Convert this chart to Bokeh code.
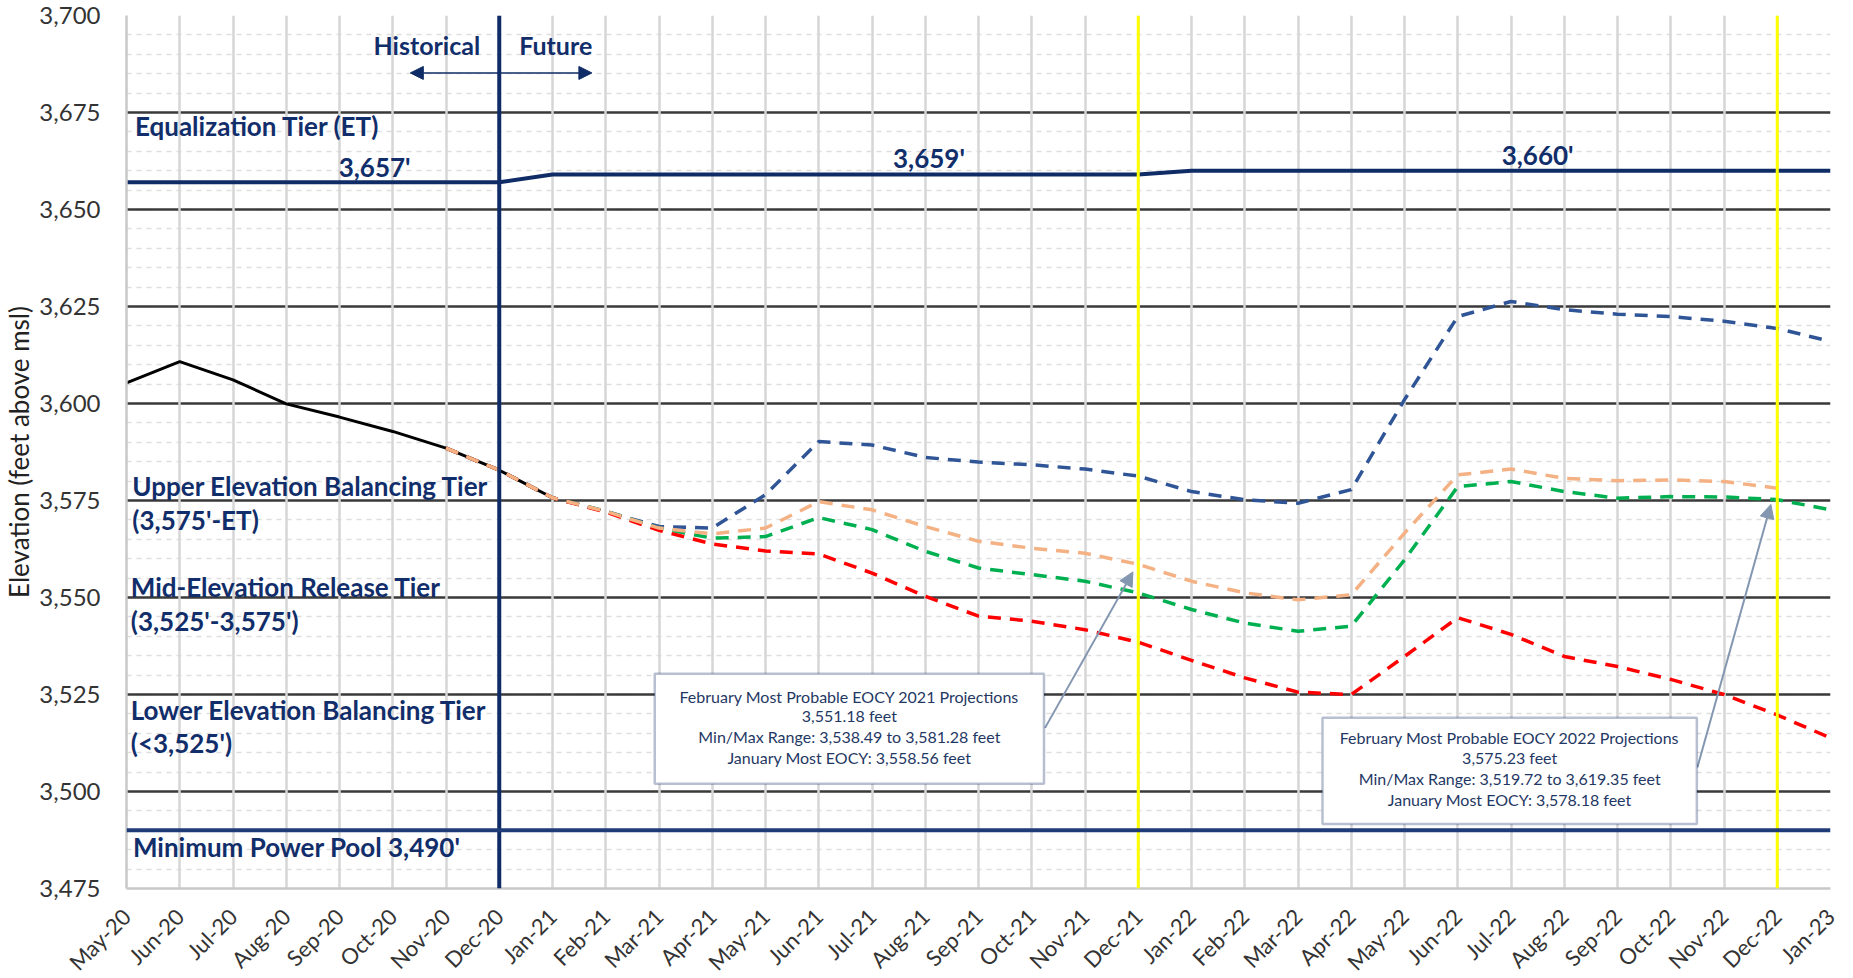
import math
from bokeh.plotting import figure
from bokeh.models import (Range1d, FixedTicker, NumeralTickFormatter, Grid, Span, Label,
                          BoxAnnotation, Arrow, NormalHead)
from bokeh.embed import file_html
from bokeh.resources import INLINE

# ---------------- data ----------------
month_labels = ["May-20", "Jun-20", "Jul-20", "Aug-20", "Sep-20", "Oct-20", "Nov-20", "Dec-20",
                "Jan-21", "Feb-21", "Mar-21", "Apr-21", "May-21", "Jun-21", "Jul-21", "Aug-21",
                "Sep-21", "Oct-21", "Nov-21", "Dec-21", "Jan-22", "Feb-22", "Mar-22", "Apr-22",
                "May-22", "Jun-22", "Jul-22", "Aug-22", "Sep-22", "Oct-22", "Nov-22", "Dec-22",
                "Jan-23"]
y_ticks = [3475, 3500, 3525, 3550, 3575, 3600, 3625, 3650, 3675, 3700]

historical = [3605.3, 3610.8, 3606.1, 3599.9, 3596.5, 3592.8, 3588.5, 3582.8, 3575.7]

# projections start at Nov-20
proj_start = 6
max_probable = [3588.5, 3582.8, 3575.7, 3572.2, 3568.3, 3567.9, 3576.5, 3590.2, 3589.3, 3586.1,
                3584.9, 3584.2, 3583.1, 3581.28, 3577.3, 3575.2, 3574.3, 3577.8, 3601.0, 3622.4,
                3626.3, 3624.2, 3623.0, 3622.4, 3621.2, 3619.35, 3616.0]
jan_most_probable = [3588.5, 3582.8, 3575.7, 3572.2, 3567.9, 3566.4, 3567.9, 3574.7, 3572.6, 3568.3,
                     3564.5, 3562.7, 3561.4, 3558.56, 3554.2, 3551.2, 3549.4, 3550.7, 3566.6, 3581.6,
                     3583.1, 3580.7, 3580.1, 3580.3, 3579.9, 3578.18]
feb_most_probable = [3588.5, 3582.8, 3575.7, 3572.2, 3567.9, 3565.3, 3565.7, 3570.6, 3567.5, 3561.9,
                     3557.6, 3555.9, 3554.2, 3551.18, 3546.9, 3543.4, 3541.3, 3542.6, 3559.7, 3578.6,
                     3579.9, 3577.3, 3575.6, 3576.0, 3575.9, 3575.23, 3572.6]
min_probable = [3588.5, 3582.8, 3575.7, 3572.0, 3567.3, 3563.8, 3562.0, 3561.2, 3556.3, 3550.3,
                3545.2, 3543.9, 3541.7, 3538.49, 3533.8, 3529.3, 3525.6, 3525.0, 3534.8, 3544.8,
                3540.5, 3534.8, 3532.2, 3528.9, 3525.0, 3519.72, 3513.8]

equalization = [3657, 3657, 3657, 3657, 3657, 3657, 3657, 3657,
                3659, 3659, 3659, 3659, 3659, 3659, 3659, 3659, 3659, 3659, 3659, 3659,
                3660, 3660, 3660, 3660, 3660, 3660, 3660, 3660, 3660, 3660, 3660, 3660, 3660]
min_power_pool = 3490
hist_future_divider = 7      # Dec-20
eocy_markers = [19, 31]      # Dec-21, Dec-22

box1_lines = ["February Most Probable EOCY 2021 Projections", "3,551.18 feet",
              "Min/Max Range: 3,538.49 to 3,581.28 feet", "January Most EOCY: 3,558.56 feet"]
box2_lines = ["February Most Probable EOCY 2022 Projections", "3,575.23 feet",
              "Min/Max Range: 3,519.72 to 3,619.35 feet", "January Most EOCY: 3,578.18 feet"]

# ---------------- styling ----------------
NAVY = "#0F2C66"
NAVY_TXT = "#112E6B"
FONT = "Lato"
Y0, Y1 = 3475, 3700

months = list(range(len(month_labels)))

p = figure(frame_width=1704, frame_height=873,
           x_range=Range1d(0, len(month_labels) - 1), y_range=Range1d(Y0, Y1),
           output_backend="svg", toolbar_location=None,
           min_border_left=123, min_border_top=15, min_border_right=10, min_border_bottom=0,
           background_fill_color="white", border_fill_color="white")
p.outline_line_color = None
p.grid.visible = False

yt = FixedTicker(ticks=y_ticks, minor_ticks=list(range(Y0, Y1 + 1, 5)))
xt = FixedTicker(ticks=months)

ygrid = Grid(dimension=1, ticker=yt, grid_line_color="#3A3A3A", grid_line_width=2.5,
             minor_grid_line_color="#DEDEDE", minor_grid_line_width=1.5,
             minor_grid_line_dash="5 5")
xgrid = Grid(dimension=0, ticker=xt, grid_line_color="#D6D6D6", grid_line_width=2.5)
p.add_layout(ygrid)
p.add_layout(xgrid)

p.yaxis.ticker = yt
p.yaxis.formatter = NumeralTickFormatter(format="0,0")
p.xaxis.ticker = xt
p.xaxis.major_label_overrides = {i: lab for i, lab in enumerate(month_labels)}
p.xaxis.major_label_orientation = math.pi / 4
for ax in (p.xaxis, p.yaxis):
    ax.major_tick_line_color = None
    ax.minor_tick_line_color = None
    ax.major_tick_out = 0
    ax.major_tick_in = 0
    ax.minor_tick_out = 0
    ax.minor_tick_in = 0
    ax.axis_line_color = "#C8C8C8"
    ax.axis_line_width = 2.5
    ax.major_label_text_font = FONT
    ax.major_label_text_color = "#333333"
p.yaxis.major_label_text_font_size = "24px"
p.yaxis.major_label_standoff = 26
p.yaxis.axis_label = "Elevation (feet above msl)"
p.yaxis.axis_label_text_font = FONT
p.yaxis.axis_label_text_font_size = "26px"
p.yaxis.axis_label_text_font_style = "normal"
p.yaxis.axis_label_text_color = "#222222"
p.yaxis.axis_label_standoff = 1
p.xaxis.major_label_text_font_size = "22px"
p.xaxis.major_label_standoff = 24

# vertical markers
p.add_layout(Span(location=hist_future_divider, dimension="height", line_color=NAVY, line_width=4))
for m in eocy_markers:
    p.add_layout(Span(location=m, dimension="height", line_color="#FFFF00", line_width=3))
p.add_layout(Span(location=min_power_pool, dimension="width", line_color="#1F3B78", line_width=4))

# equalization tier line
p.line(months, equalization, line_color=NAVY, line_width=4)

# historical
p.line(months[:len(historical)], historical, line_color="black", line_width=3)

# projections
px = lambda arr: months[proj_start:proj_start + len(arr)]
dash = "13 9"
p.line(px(max_probable), max_probable, line_color="#2F5597", line_width=3.5, line_dash=dash)
p.line(px(feb_most_probable), feb_most_probable, line_color="#00B050", line_width=3.5, line_dash=dash)
p.line(px(min_probable), min_probable, line_color="#FF0000", line_width=3.5, line_dash=dash)
p.line(px(jan_most_probable), jan_most_probable, line_color="#F4B183", line_width=3.5, line_dash=dash)

def lab(x, y, text, size="26px", style="bold", align="left", color=NAVY_TXT):
    p.add_layout(Label(x=x, y=y, text=text, text_font=FONT, text_font_size=size,
                       text_font_style=style, text_color=color, text_align=align,
                       text_baseline="middle"))

lab(5.64, 3692.5, "Historical", size="25px", align="center")
lab(8.06, 3692.5, "Future", size="25px", align="center")
p.add_layout(Arrow(x_start=5.33, y_start=3685.2, x_end=8.74, y_end=3685.2,
                   line_color=NAVY, line_width=1.5,
                   start=NormalHead(size=13, fill_color=NAVY, line_color=NAVY),
                   end=NormalHead(size=13, fill_color=NAVY, line_color=NAVY)))

lab(0.16, 3671.5, "Equalization Tier (ET)")
lab(4.66, 3660.9, "3,657'", align="center")
lab(15.07, 3663.3, "3,659'", align="center")
lab(26.5, 3664.1, "3,660'", align="center")
lab(0.11, 3578.7, "Upper Elevation Balancing Tier")
lab(0.11, 3570.1, "(3,575'-ET)")
lab(0.08, 3552.7, "Mid-Elevation Release Tier")
lab(0.08, 3543.9, "(3,525'-3,575')")
lab(0.08, 3520.9, "Lower Elevation Balancing Tier")
lab(0.08, 3512.4, "(<3,525')")
lab(0.12, 3485.8, "Minimum Power Pool 3,490'")

# annotation arrows
ARW = "#8497B0"
p.add_layout(Arrow(x_start=17.25, y_start=3516.4, x_end=18.9, y_end=3556.6,
                   line_color=ARW, line_width=2,
                   end=NormalHead(size=14, fill_color=ARW, line_color=ARW)))
p.add_layout(Arrow(x_start=29.5, y_start=3506.2, x_end=30.88, y_end=3574.0,
                   line_color=ARW, line_width=2,
                   end=NormalHead(size=14, fill_color=ARW, line_color=ARW)))

# annotation boxes
p.add_layout(BoxAnnotation(left=9.92, right=17.23, top=3530.35, bottom=3502.0,
                           fill_color="white", fill_alpha=1, line_color=NAVY, line_width=2.5))
for t, yy in zip(box1_lines, [3524.6, 3519.5, 3514.1, 3508.7]):
    lab(13.575, yy, t, size="16px", style="normal", align="center", color="#1F3864")
p.add_layout(BoxAnnotation(left=22.46, right=29.49, top=3519.0, bottom=3491.6,
                           fill_color="white", fill_alpha=1, line_color=NAVY, line_width=2.5))
for t, yy in zip(box2_lines, [3513.9, 3508.7, 3503.4, 3497.9]):
    lab(25.975, yy, t, size="16px", style="normal", align="center", color="#1F3864")

open("out.html", "w").write(file_html(p, INLINE))
